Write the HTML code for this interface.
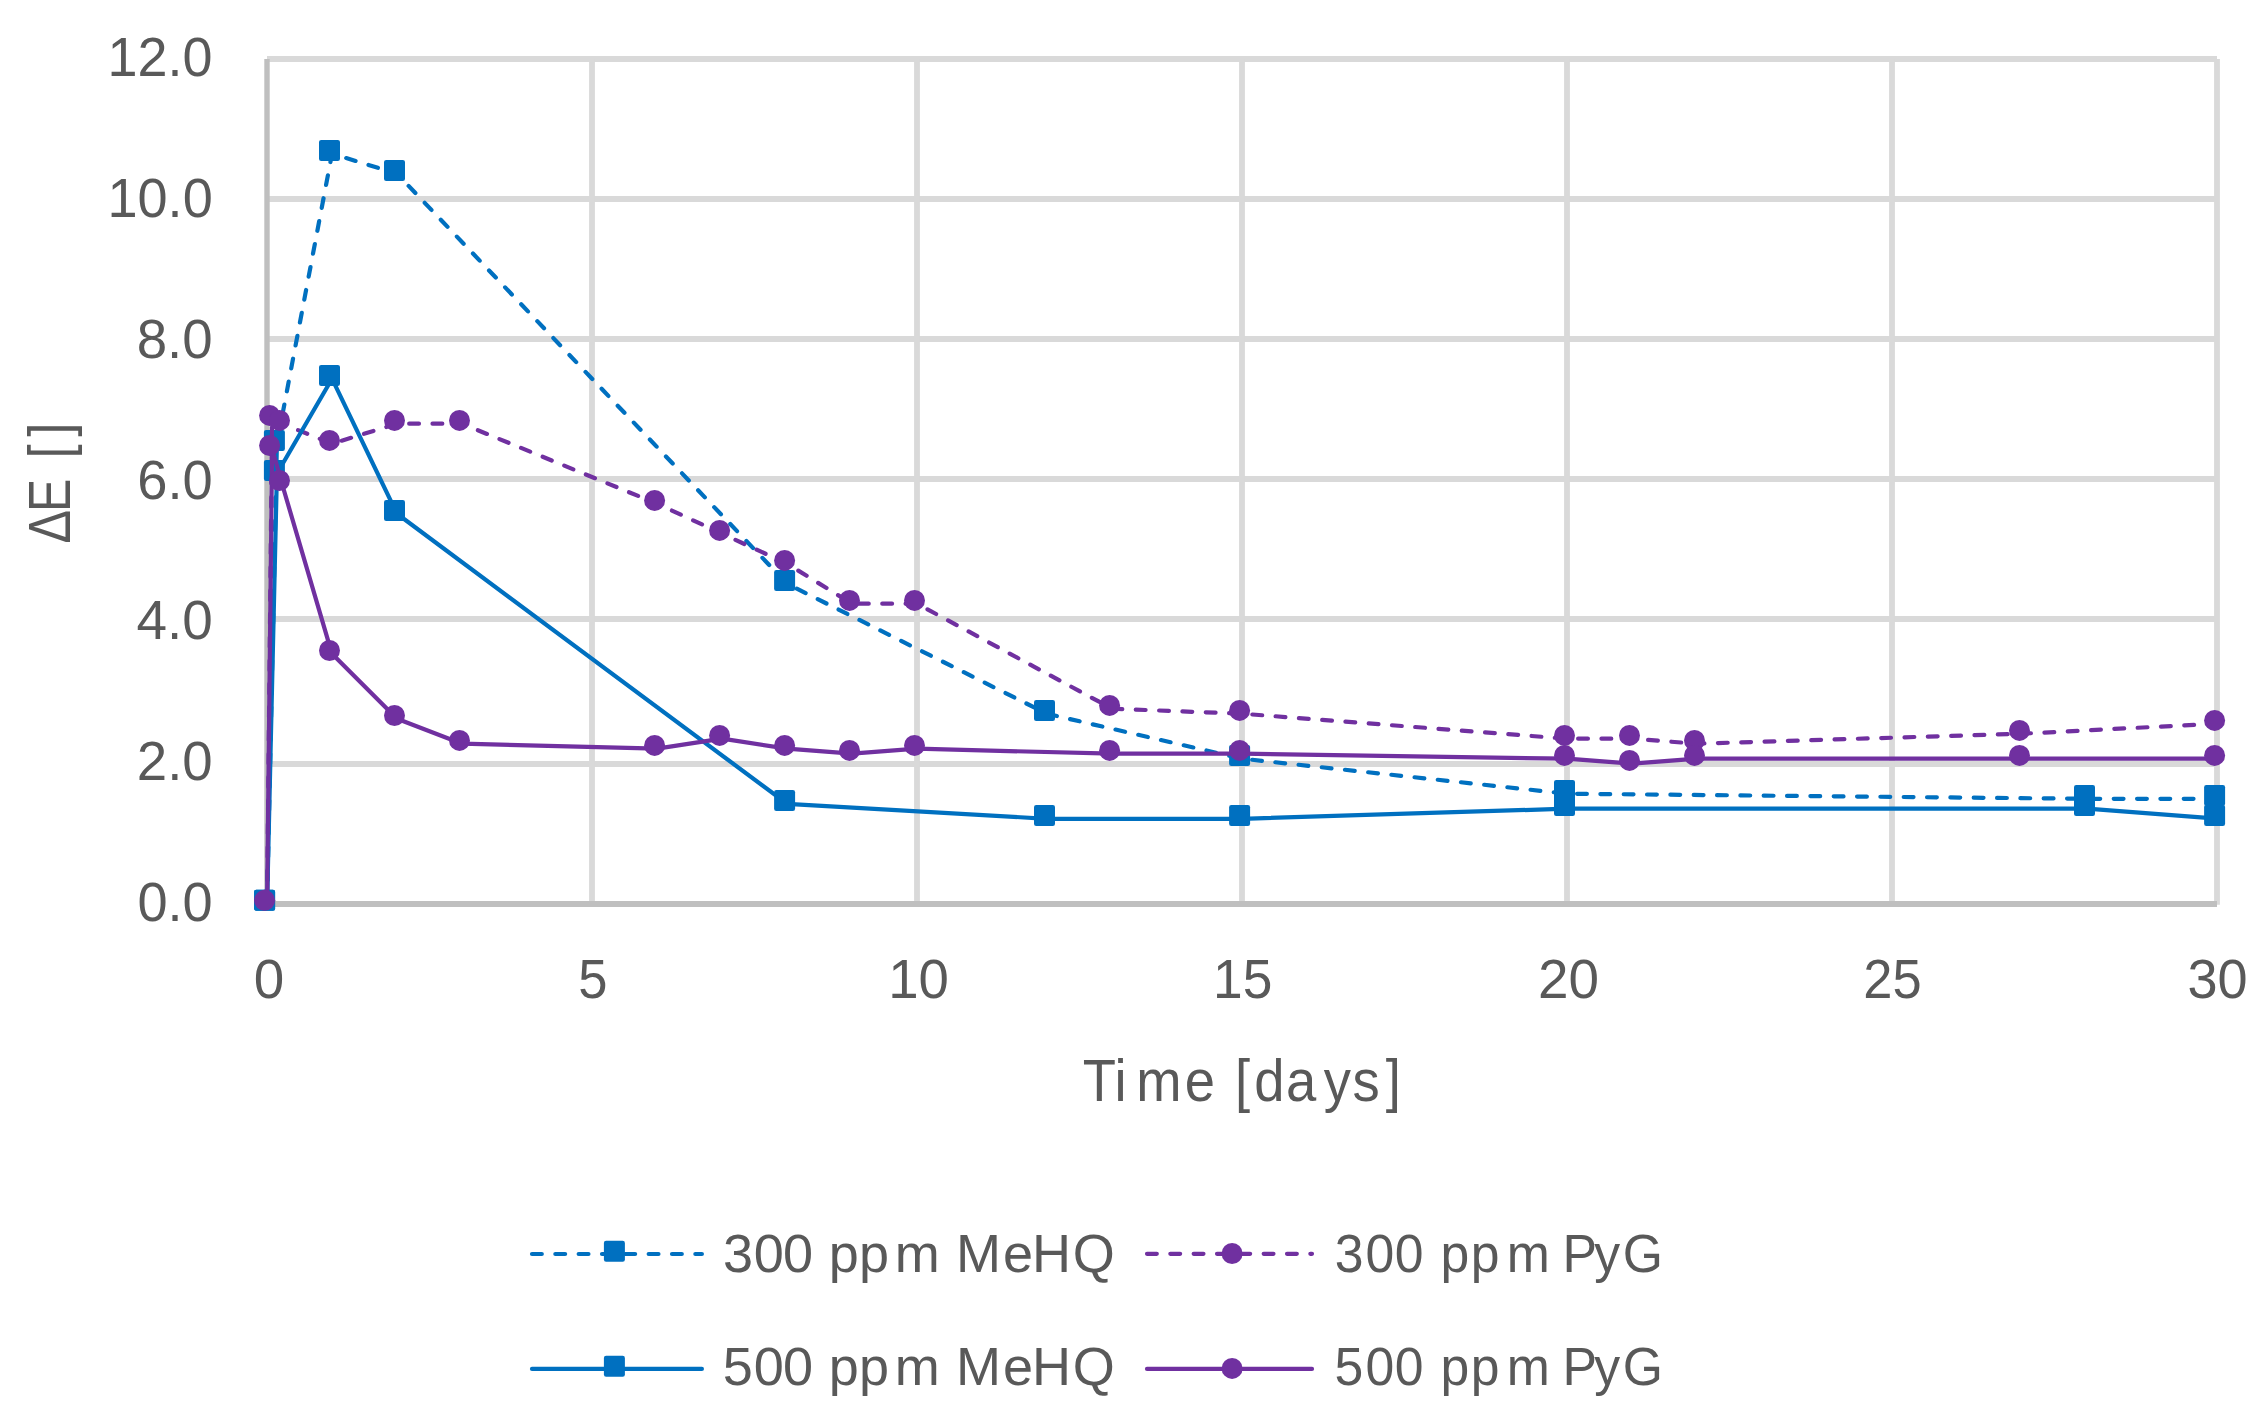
<!DOCTYPE html>
<html lang="en"><head><meta charset="utf-8"><title>Chart</title>
<style>html,body{margin:0;padding:0;background:#fff}svg{display:block}text{font-family:"Liberation Sans",sans-serif;fill:#595959;font-kerning:none}</style>
</head><body>
<svg width="2256" height="1415" viewBox="0 0 2256 1415">
<rect width="2256" height="1415" fill="#fff"/>
<g stroke="#d9d9d9" stroke-width="5.8" fill="none">
<line x1="267" y1="59" x2="2217" y2="59"/>
<line x1="267" y1="199" x2="2217" y2="199"/>
<line x1="267" y1="339" x2="2217" y2="339"/>
<line x1="267" y1="479" x2="2217" y2="479"/>
<line x1="267" y1="619" x2="2217" y2="619"/>
<line x1="267" y1="764" x2="2217" y2="764"/>
</g>
<g stroke="#d9d9d9" stroke-width="5.8" fill="none">
<line x1="592" y1="59" x2="592" y2="904.7"/>
<line x1="917" y1="59" x2="917" y2="904.7"/>
<line x1="1242" y1="59" x2="1242" y2="904.7"/>
<line x1="1567" y1="59" x2="1567" y2="904.7"/>
<line x1="1892" y1="59" x2="1892" y2="904.7"/>
<line x1="2217" y1="59" x2="2217" y2="904.7"/>
</g>
<g stroke="#bfbfbf" fill="none">
<line x1="267" y1="59" x2="267" y2="904" stroke-width="5.4"/>
<line x1="267" y1="904" x2="2217" y2="904" stroke-width="5.8"/>
</g>
<polyline points="267.1,903.6 276.9,443.7 332.0,153.7 397.0,173.7 787.1,583.8 1047.0,713.8 1242.1,758.7 1567.0,793.7 2087.0,798.8 2217.1,798.8" fill="none" stroke="#0070c0" stroke-width="4.2" stroke-linecap="round" stroke-linejoin="round" stroke-dasharray="9.8 13.535"/>
<g fill="#0070c0">
<rect x="254.1" y="889.8" width="21" height="21" rx="2.2"/>
<rect x="263.9" y="429.9" width="21" height="21" rx="2.2"/>
<rect x="319.0" y="139.9" width="21" height="21" rx="2.2"/>
<rect x="384.0" y="159.9" width="21" height="21" rx="2.2"/>
<rect x="774.1" y="570.0" width="21" height="21" rx="2.2"/>
<rect x="1034.0" y="700.0" width="21" height="21" rx="2.2"/>
<rect x="1229.1" y="744.9" width="21" height="21" rx="2.2"/>
<rect x="1554.0" y="779.9" width="21" height="21" rx="2.2"/>
<rect x="2074.0" y="785.0" width="21" height="21" rx="2.2"/>
<rect x="2204.1" y="785.0" width="21" height="21" rx="2.2"/>
</g>
<polyline points="267.1,903.6 272.1,418.7 282.0,423.7 332.0,443.7 397.0,423.7 462.0,423.7 657.1,503.7 722.1,533.7 787.1,563.7 852.0,603.7 917.0,603.7 1112.1,708.7 1242.1,713.7 1567.0,738.7 1632.0,738.7 1697.0,743.7 2022.0,733.7 2217.1,723.7" fill="none" stroke="#7030a0" stroke-width="4.2" stroke-linecap="round" stroke-linejoin="round" stroke-dasharray="9.8 13.535"/>
<g fill="#7030a0">
<circle cx="264.6" cy="900.3" r="10.5"/>
<circle cx="269.6" cy="415.4" r="10.5"/>
<circle cx="279.5" cy="420.4" r="10.5"/>
<circle cx="329.5" cy="440.4" r="10.5"/>
<circle cx="394.5" cy="420.4" r="10.5"/>
<circle cx="459.5" cy="420.4" r="10.5"/>
<circle cx="654.6" cy="500.4" r="10.5"/>
<circle cx="719.6" cy="530.4" r="10.5"/>
<circle cx="784.6" cy="560.4" r="10.5"/>
<circle cx="849.5" cy="600.4" r="10.5"/>
<circle cx="914.5" cy="600.4" r="10.5"/>
<circle cx="1109.6" cy="705.4" r="10.5"/>
<circle cx="1239.6" cy="710.4" r="10.5"/>
<circle cx="1564.5" cy="735.4" r="10.5"/>
<circle cx="1629.5" cy="735.4" r="10.5"/>
<circle cx="1694.5" cy="740.4" r="10.5"/>
<circle cx="2019.5" cy="730.4" r="10.5"/>
<circle cx="2214.6" cy="720.4" r="10.5"/>
</g>
<polyline points="267.1,903.6 276.9,473.7 332.0,378.7 397.0,513.8 787.1,803.8 1047.0,818.8 1242.1,818.8 1567.0,808.7 2087.0,808.7 2217.1,818.7" fill="none" stroke="#0070c0" stroke-width="4.2" stroke-linecap="round" stroke-linejoin="round"/>
<g fill="#0070c0">
<rect x="254.1" y="889.8" width="21" height="21" rx="2.2"/>
<rect x="263.9" y="459.9" width="21" height="21" rx="2.2"/>
<rect x="319.0" y="364.9" width="21" height="21" rx="2.2"/>
<rect x="384.0" y="500.0" width="21" height="21" rx="2.2"/>
<rect x="774.1" y="790.0" width="21" height="21" rx="2.2"/>
<rect x="1034.0" y="805.0" width="21" height="21" rx="2.2"/>
<rect x="1229.1" y="805.0" width="21" height="21" rx="2.2"/>
<rect x="1554.0" y="794.9" width="21" height="21" rx="2.2"/>
<rect x="2074.0" y="794.9" width="21" height="21" rx="2.2"/>
<rect x="2204.1" y="804.9" width="21" height="21" rx="2.2"/>
</g>
<polyline points="267.1,903.6 272.1,448.8 282.0,483.8 332.0,653.8 397.0,718.8 462.0,743.7 657.1,748.7 722.1,738.7 787.1,748.7 852.0,753.7 917.0,748.7 1112.1,753.7 1242.1,753.7 1567.0,758.7 1632.0,763.7 1697.0,758.7 2022.0,758.7 2217.1,758.7" fill="none" stroke="#7030a0" stroke-width="4.2" stroke-linecap="round" stroke-linejoin="round"/>
<g fill="#7030a0">
<circle cx="264.6" cy="900.3" r="10.5"/>
<circle cx="269.6" cy="445.5" r="10.5"/>
<circle cx="279.5" cy="480.5" r="10.5"/>
<circle cx="329.5" cy="650.5" r="10.5"/>
<circle cx="394.5" cy="715.5" r="10.5"/>
<circle cx="459.5" cy="740.4" r="10.5"/>
<circle cx="654.6" cy="745.4" r="10.5"/>
<circle cx="719.6" cy="735.4" r="10.5"/>
<circle cx="784.6" cy="745.4" r="10.5"/>
<circle cx="849.5" cy="750.4" r="10.5"/>
<circle cx="914.5" cy="745.4" r="10.5"/>
<circle cx="1109.6" cy="750.4" r="10.5"/>
<circle cx="1239.6" cy="750.4" r="10.5"/>
<circle cx="1564.5" cy="755.4" r="10.5"/>
<circle cx="1629.5" cy="760.4" r="10.5"/>
<circle cx="1694.5" cy="755.4" r="10.5"/>
<circle cx="2019.5" cy="755.4" r="10.5"/>
<circle cx="2214.6" cy="755.4" r="10.5"/>
</g>
<text x="107.59" y="76.25" font-size="55" textLength="104.91" lengthAdjust="spacingAndGlyphs">12.0</text>
<text x="107.48" y="217.01" font-size="55" textLength="105.23" lengthAdjust="spacingAndGlyphs">10.0</text>
<text x="136.72" y="357.77" font-size="55" textLength="76.01" lengthAdjust="spacingAndGlyphs">8.0</text>
<text x="137.24" y="498.53" font-size="55" textLength="75.48" lengthAdjust="spacingAndGlyphs">6.0</text>
<text x="136.44" y="639.29" font-size="55" textLength="76.30" lengthAdjust="spacingAndGlyphs">4.0</text>
<text x="136.75" y="780.05" font-size="55" textLength="75.98" lengthAdjust="spacingAndGlyphs">2.0</text>
<text x="137.38" y="920.81" font-size="55" textLength="75.33" lengthAdjust="spacingAndGlyphs">0.0</text>
<text x="253.66" y="998.30" font-size="55" textLength="30.48" lengthAdjust="spacingAndGlyphs">0</text>
<text x="578.30" y="998.30" font-size="55" textLength="29.21" lengthAdjust="spacingAndGlyphs">5</text>
<text x="888.24" y="998.30" font-size="55" textLength="60.69" lengthAdjust="spacingAndGlyphs">10</text>
<text x="1213.04" y="998.30" font-size="55" textLength="59.30" lengthAdjust="spacingAndGlyphs">15</text>
<text x="1537.94" y="998.30" font-size="55" textLength="61.00" lengthAdjust="spacingAndGlyphs">20</text>
<text x="1863.26" y="998.30" font-size="55" textLength="58.34" lengthAdjust="spacingAndGlyphs">25</text>
<text x="2187.54" y="998.30" font-size="55" textLength="60.17" lengthAdjust="spacingAndGlyphs">30</text>
<text transform="scale(0.9127,1)" x="1186.33 1221.08 1245.01 1298.19 1331.34 1353.25 1374.35 1409.14 1450.47 1481.90 1518.20" y="1100.70" font-size="59.6" xml:space="preserve">Time [days]</text>
<text transform="translate(70.3,0) rotate(-90) scale(0.8436,1)" x="-644.17 -607.09 -567.34 -543.12 -517.82" y="0.00" font-size="59.6" xml:space="preserve">ΔE []</text>
<line x1="532.0" y1="1254.0" x2="701.9" y2="1254.0" stroke="#0070c0" stroke-width="4.2" stroke-linecap="round" stroke-dasharray="9.8 13.535"/>
<rect x="603.9" y="1240.8" width="21" height="21" rx="2.2" fill="#0070c0"/>
<line x1="1147.0" y1="1253.8" x2="1312.0" y2="1253.8" stroke="#7030a0" stroke-width="4.2" stroke-linecap="round" stroke-dasharray="9.8 13.535"/>
<circle cx="1232.1" cy="1253.5" r="10.5" fill="#7030a0"/>
<line x1="532.0" y1="1368.9" x2="701.9" y2="1368.9" stroke="#0070c0" stroke-width="4.2" stroke-linecap="round"/>
<rect x="603.9" y="1355.8" width="21" height="21" rx="2.2" fill="#0070c0"/>
<line x1="1147.0" y1="1368.9" x2="1312.0" y2="1368.9" stroke="#7030a0" stroke-width="4.2" stroke-linecap="round"/>
<circle cx="1232.1" cy="1368.4" r="10.5" fill="#7030a0"/>
<text transform="scale(0.9916,1)" x="729.06 760.21 789.56 819.87 835.86 866.39 902.26 947.66 964.19 1011.52 1040.82 1081.93" y="1271.70" font-size="54.5" xml:space="preserve">300 ppm MeHQ</text>
<text transform="scale(0.9488,1)" x="1406.65 1439.22 1469.89 1500.20 1518.32 1550.23 1588.02 1633.42 1646.81 1680.42 1710.42" y="1271.70" font-size="54.5" xml:space="preserve">300 ppm PyG</text>
<text transform="scale(0.9916,1)" x="728.95 760.21 789.56 819.87 835.86 866.39 902.26 947.66 964.19 1011.52 1040.82 1081.93" y="1385.00" font-size="54.5" xml:space="preserve">500 ppm MeHQ</text>
<text transform="scale(0.9488,1)" x="1406.55 1439.22 1469.89 1500.20 1518.32 1550.23 1588.02 1633.42 1646.81 1680.42 1710.42" y="1385.00" font-size="54.5" xml:space="preserve">500 ppm PyG</text>
</svg></body></html>
